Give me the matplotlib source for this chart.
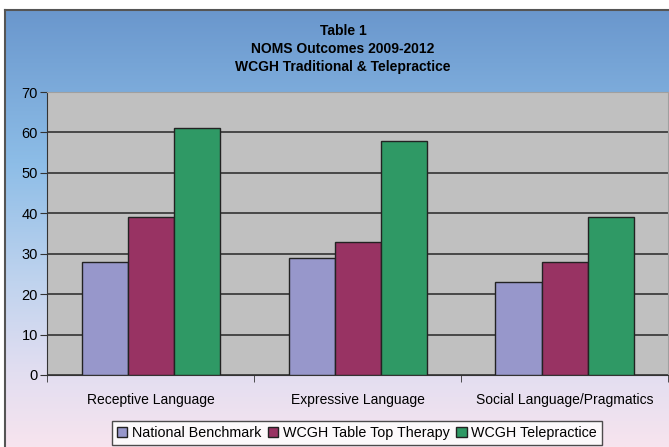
import numpy as np
import matplotlib
matplotlib.use("Agg")
import matplotlib.pyplot as plt
from matplotlib.colors import LinearSegmentedColormap

categories = ["Receptive Language", "Expressive Language", "Social Language/Pragmatics"]
series_names = ["National Benchmark", "WCGH Table Top Therapy", "WCGH Telepractice"]
national = [28, 29, 23]
table_top = [39, 33, 28]
telepractice = [61, 58, 39]
yticks = [0, 10, 20, 30, 40, 50, 60, 70]

colors = ["#9797CB", "#983363", "#2F9965"]

plt.rcParams["font.family"] = ["Liberation Sans", "DejaVu Sans"]

W, H = 669, 447
fig = plt.figure(figsize=(W / 100, H / 100), dpi=100)
fig.patch.set_facecolor("white")

# chart frame with blue -> pink gradient
bg = fig.add_axes([5 / W, 0, 1, (H - 10) / H], zorder=0)
cmap = LinearSegmentedColormap.from_list(
    "bg",
    [(0.0, "#6A97CD"), (0.35, "#8DBDE7"), (0.62, "#BFD3EE"),
     (0.83, "#E2DEF1"), (1.0, "#F7E4EE")])
grad = np.linspace(0, 1, 256).reshape(-1, 1)
bg.imshow(grad, aspect="auto", cmap=cmap, extent=[0, 1, 0, 1], origin="upper")
bg.set_xlim(0, 1)
bg.set_ylim(0, 1)
bg.set_xticks([])
bg.set_yticks([])
for side in ["right", "bottom"]:
    bg.spines[side].set_visible(False)
for side in ["left", "top"]:
    bg.spines[side].set_color("#555555")
    bg.spines[side].set_linewidth(1.5)

# plot area
ax = fig.add_axes([47 / W, (H - 375) / H, (668 - 47) / W, (375 - 92) / H], zorder=1)
ax.set_facecolor("#C0C0C0")

x = np.arange(len(categories))
w = 1 / 4.5
for i, (vals, c, name) in enumerate(zip([national, table_top, telepractice], colors, series_names)):
    ax.bar(x + (i - 1) * w, vals, w, color=c, edgecolor="#222222", linewidth=1.0,
           label=name, zorder=3)

ax.set_xlim(-0.5, len(categories) - 0.5)
ax.set_ylim(0, 70)
ax.set_yticks(yticks)
ax.yaxis.grid(True, color="#333333", linewidth=1.2, zorder=1)
ax.set_axisbelow(True)
ax.set_xticks(x)
ax.set_xticklabels(categories, fontsize=10)
ax.set_xticks(np.arange(len(categories) + 1) - 0.5, minor=True)
ax.tick_params(axis="x", which="major", length=0, pad=13)
ax.tick_params(axis="x", which="minor", length=5, color="#333333", direction="out")
ax.tick_params(axis="y", labelsize=10.5, length=5, color="#333333", direction="out", pad=1.5)
for side in ["top", "right"]:
    ax.spines[side].set_color("#A0A0A0")
ax.spines["left"].set_color("#333333")
ax.spines["bottom"].set_color("#333333")

fig.text(343 / W, 1 - 49 / H, "Table 1\nNOMS Outcomes 2009-2012\nWCGH Traditional & Telepractice",
         ha="center", va="center", fontsize=10, fontweight="bold", linespacing=1.35)

leg = fig.legend(loc="center", bbox_to_anchor=(357 / W, 1 - 433 / H), ncol=3,
                 fontsize=10.3, frameon=True, fancybox=False, handlelength=0.7,
                 handleheight=0.7, handletextpad=0.3, columnspacing=0.5,
                 borderpad=0.35, edgecolor="#222222")
leg.get_frame().set_linewidth(1.0)
leg.get_frame().set_facecolor("white")

fig.savefig("out.png", dpi=100)
